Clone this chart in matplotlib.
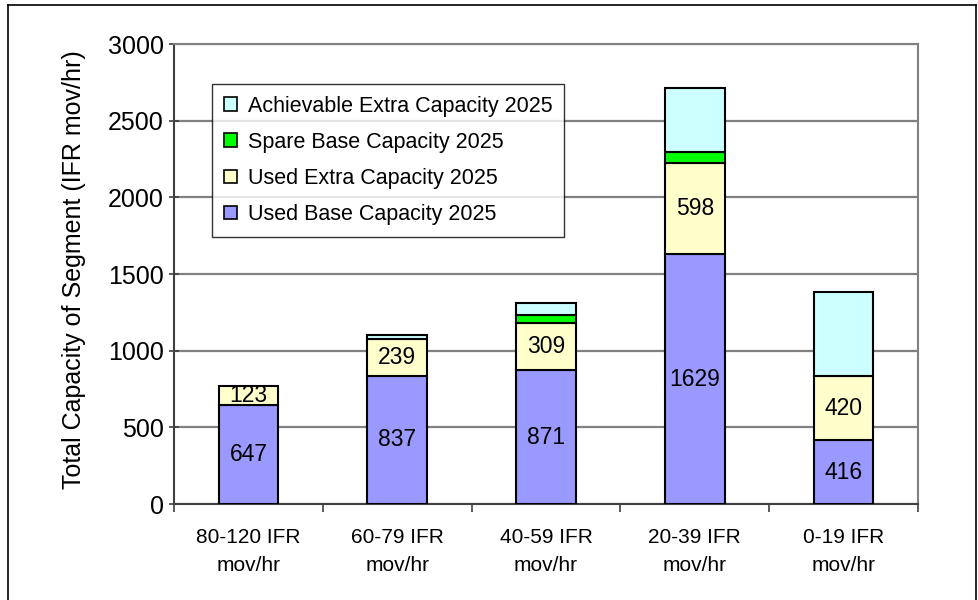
import matplotlib
matplotlib.use("Agg")
import matplotlib.pyplot as plt
import numpy as np
from matplotlib.patches import Patch
from matplotlib.lines import Line2D

categories = ["80-120 IFR\nmov/hr", "60-79 IFR\nmov/hr", "40-59 IFR\nmov/hr",
              "20-39 IFR\nmov/hr", "0-19 IFR\nmov/hr"]
used_base = [647, 837, 871, 1629, 416]
used_extra = [123, 239, 309, 598, 420]
spare_base = [0, 0, 50, 70, 0]
achievable_extra = [0, 25, 80, 418, 547]

series_names = ["Used Base Capacity 2025", "Used Extra Capacity 2025",
                "Spare Base Capacity 2025", "Achievable Extra Capacity 2025"]
colors = ["#9999FF", "#FFFFCC", "#00FF00", "#CCFFFF"]

plt.rcParams['font.family'] = ['Liberation Sans', 'DejaVu Sans']

fig = plt.figure(figsize=(9.79, 6.0), dpi=100)
ax = fig.add_axes([174/979, 1-504/600, (918-174)/979, (504-44)/600])

x = np.arange(len(categories))
width = 0.40
bottom = np.zeros(len(categories))
all_series = [used_base, used_extra, spare_base, achievable_extra]
for vals, col in zip(all_series, colors):
    vals = np.array(vals, dtype=float)
    mask = vals > 0
    ax.bar(x[mask], vals[mask], width, bottom=bottom[mask], color=col,
           edgecolor="black", linewidth=1.5, zorder=3)
    bottom += vals

# labels
for i in range(len(categories)):
    ax.text(x[i], used_base[i] / 2, str(used_base[i]), ha="center", va="center",
            fontsize=16.5, zorder=4)
    ax.text(x[i], used_base[i] + used_extra[i] / 2, str(used_extra[i]),
            ha="center", va="center", fontsize=16.5, zorder=4)

ax.set_xlim(-0.5, len(categories) - 0.5)
ax.set_ylim(0, 3000)
ax.set_yticks(np.arange(0, 3001, 500))
ax.set_xticks(x)
ax.set_xticklabels(categories, fontsize=15, linespacing=1.65)
ax.set_xticks(np.arange(-0.5, len(categories), 1.0), minor=True)
ax.tick_params(axis="x", which="major", length=0, pad=17)
ax.tick_params(axis="x", which="minor", length=6, width=1.2, color="#404040")
ax.tick_params(axis="y", labelsize=18, length=7, width=1.2, color="#404040",
               direction="inout", pad=4)
ax.yaxis.grid(True, color="#808080", linewidth=1.6, zorder=0)
ax.set_axisbelow(True)
for s in ["top", "right"]:
    ax.spines[s].set_color("#808080")
    ax.spines[s].set_linewidth(1.5)
for s in ["left", "bottom"]:
    ax.spines[s].set_color("#404040")
    ax.spines[s].set_linewidth(1.5)
ax.set_ylabel("Total Capacity of Segment (IFR mov/hr)", fontsize=18)
ax.yaxis.set_label_coords(-0.118, 0.51)

handles = [Patch(facecolor=c, edgecolor="black", linewidth=1.2) for c in colors]
leg = ax.legend(handles[::-1], series_names[::-1], loc="upper left",
                bbox_to_anchor=((212-174)/744, (504-84)/460), fontsize=15.5,
                frameon=True, fancybox=False, edgecolor="black",
                handlelength=0.6, handleheight=0.6, handletextpad=0.5,
                labelspacing=0.7, borderpad=0.55, borderaxespad=0)
leg.get_frame().set_linewidth(1.0)
leg.set_zorder(5)

# figure border
fig.add_artist(Line2D([8/979, 8/979], [0, 1-5/600], transform=fig.transFigure,
                      color="black", linewidth=1.2))
fig.add_artist(Line2D([8/979, 976/979], [1-5/600, 1-5/600], transform=fig.transFigure,
                      color="black", linewidth=1.2))
fig.add_artist(Line2D([976/979, 976/979], [0, 1-5/600], transform=fig.transFigure,
                      color="black", linewidth=1.2))

fig.savefig("out.png", dpi=100)
